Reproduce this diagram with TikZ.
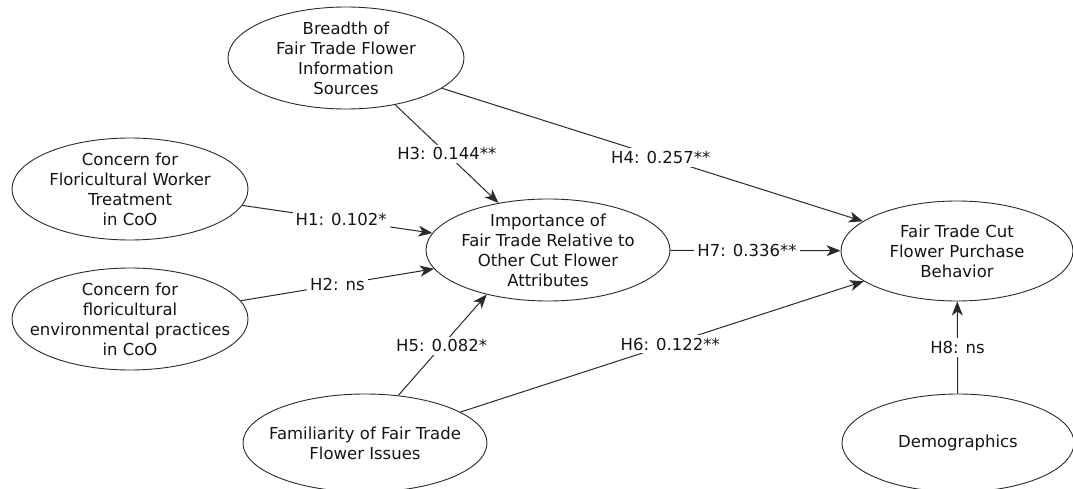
\documentclass[tikz,border=0pt]{standalone}
\usepackage{fontspec}
\setmainfont{DejaVu Sans}
\usetikzlibrary{shapes.geometric,arrows.meta}
\definecolor{ink}{HTML}{151515}
\definecolor{edgec}{HTML}{2A2A2A}
\tikzset{
  construct/.style={shape=ellipse, draw=edgec, line width=0.9pt, fill=white, inner sep=-30pt,
    align=center, text=ink, font=\fontsize{16.5}{20}\selectfont},
  path/.style={draw=edgec, line width=1pt, -{Stealth[length=14pt,width=11pt,inset=4pt]}},
  lbl/.style={fill=white, inner sep=3pt, text=ink, font=\fontsize{16.5}{20}\selectfont}
}
\begin{document}
\begin{tikzpicture}[x=1pt,y=1pt]
\useasboundingbox (0,0) rectangle (1073,488);
\clip (0,0) rectangle (1073,488);
\fill[white] (0,0) rectangle (1073,488);
\node[construct, minimum width=236pt, minimum height=102pt] (br) at (346,430) {Breadth of\\Fair Trade Flower\\Information\\Sources};
\node[construct, minimum width=236pt, minimum height=102pt] (wk) at (130,299) {Concern for\\Floricultural Worker\\Treatment\\in CoO};
\node[construct, minimum width=236pt, minimum height=102pt] (env) at (130,169) {Concern for\\floricultural\\environmental practices\\in CoO};
\node[construct, minimum width=244pt, minimum height=102pt] (imp) at (548,238) {Importance of\\Fair Trade Relative to\\Other Cut Flower\\Attributes};
\node[construct, minimum width=232pt, minimum height=100pt] (cut) at (957,237) {Fair Trade Cut\\Flower Purchase\\Behavior};
\node[construct, minimum width=244pt, minimum height=98pt] (fam) at (365,45) {Familiarity of Fair Trade\\Flower Issues};
\node[construct, minimum width=232pt, minimum height=98pt] (demo) at (958,45) {Demographics};

\draw[path] (br) -- node[lbl, pos=0.5] {H3: 0.144**} (imp);
\draw[path] (br) -- node[lbl, pos=0.52] {H4: 0.257**} (cut);
\draw[path] (wk) -- node[lbl, pos=0.52] {H1: 0.102*} (imp);
\draw[path] (env) -- node[lbl, pos=0.5] {H2: ns} (imp);
\draw[path] (fam.55) -- node[lbl, pos=0.49] {H5: 0.082*} (imp.216);
\draw[path] (fam) -- node[lbl, pos=0.52] {H6: 0.122**} (cut);
\draw[path] (imp) -- node[lbl, pos=0.45] {H7: 0.336**} (cut);
\draw[path] (demo) -- node[lbl, pos=0.5] {H8: ns} (cut);
\end{tikzpicture}
\end{document}
